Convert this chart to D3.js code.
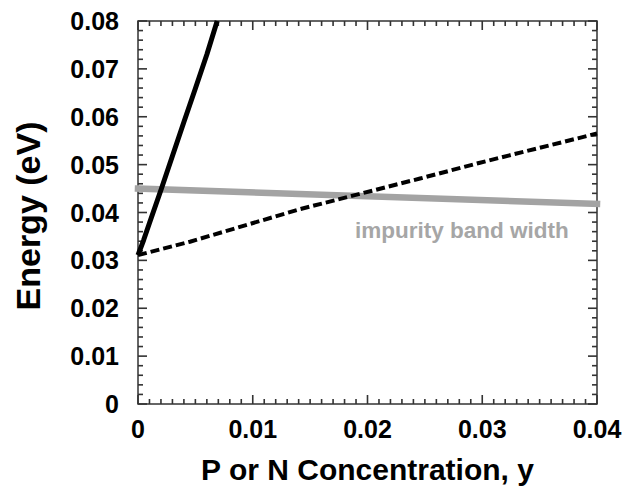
<!DOCTYPE html>
<html><head><meta charset="utf-8">
<script src="https://cdn.jsdelivr.net/npm/d3@7"></script>
<style>html,body{margin:0;padding:0;background:#fff;}svg{display:block;}</style>
</head><body>
<script>
// Data
const solidX  = [0, 0.0005, 0.001, 0.002, 0.003, 0.004, 0.005, 0.006, 0.0069];
const solidY  = [0.0311, 0.0343, 0.0378, 0.0447, 0.0518, 0.0589, 0.0659, 0.0730, 0.0800];
const dashedX = [0, 0.00453, 0.01412, 0.02458, 0.0298, 0.04];
const dashedY = [0.0311, 0.0339, 0.0407, 0.0471, 0.0504, 0.0565];
const grayX   = [0, 0.04];
const grayY   = [0.0450, 0.0418];
const xTicks  = [0, 0.01, 0.02, 0.03, 0.04];
const yTicks  = [0, 0.01, 0.02, 0.03, 0.04, 0.05, 0.06, 0.07, 0.08];
const xTickLabels = ["0", "0.01", "0.02", "0.03", "0.04"];
const yTickLabels = ["0", "0.01", "0.02", "0.03", "0.04", "0.05", "0.06", "0.07", "0.08"];
const xTitle = "P or N Concentration, y";
const yTitle = "Energy (eV)";
const bandLabel = "impurity band width";

const W = 625, H = 494;
const L = 138, R = 597, T = 21, B = 404;
const FONT = "'Liberation Sans', Arial, Helvetica, sans-serif";
const frameColor = "#333333";

const svg = d3.select("body").append("svg").attr("width", W).attr("height", H);
const x = d3.scaleLinear().domain([0, 0.04]).range([L, R]);
const y = d3.scaleLinear().domain([0, 0.08]).range([B, T]);

const xMinor = d3.range(0, 41).map(i => i * 0.001).filter(v => !xTicks.some(t => Math.abs(t - v) < 1e-9));
const yMinor = d3.range(0, 41).map(i => i * 0.002).filter(v => !yTicks.some(t => Math.abs(t - v) < 1e-9));

// frame
svg.append("rect").attr("x", L).attr("y", T).attr("width", R - L).attr("height", B - T)
  .attr("fill", "none").attr("stroke", frameColor).attr("stroke-width", 1.5);

// tick marks drawn as thin filled rectangles, inside on all four sides
const tw = 1.6;
function xTickRects(cls, vals, len) {
  svg.selectAll("rect." + cls + "b").data(vals).join("rect").attr("class", cls + "b")
    .attr("x", d => x(d) - tw / 2).attr("y", B - len).attr("width", tw).attr("height", len)
    .attr("fill", frameColor);
  svg.selectAll("rect." + cls + "t").data(vals).join("rect").attr("class", cls + "t")
    .attr("x", d => x(d) - tw / 2).attr("y", T).attr("width", tw).attr("height", len)
    .attr("fill", frameColor);
}
function yTickRects(cls, vals, len) {
  svg.selectAll("rect." + cls + "l").data(vals).join("rect").attr("class", cls + "l")
    .attr("x", L).attr("y", d => y(d) - tw / 2).attr("width", len).attr("height", tw)
    .attr("fill", frameColor);
  svg.selectAll("rect." + cls + "r").data(vals).join("rect").attr("class", cls + "r")
    .attr("x", R - len).attr("y", d => y(d) - tw / 2).attr("width", len).attr("height", tw)
    .attr("fill", frameColor);
}
xTickRects("xmaj", xTicks, 9); xTickRects("xmin", xMinor, 5);
yTickRects("ymaj", yTicks, 9); yTickRects("ymin", yMinor, 5);

// tick labels
svg.append("g").selectAll("text").data(xTicks).join("text")
  .attr("x", d => x(d)).attr("y", 438).attr("text-anchor", "middle")
  .attr("font-family", FONT).attr("font-weight", "bold").attr("font-size", 25)
  .text((d, i) => xTickLabels[i]);
svg.append("g").selectAll("text").data(yTicks).join("text")
  .attr("x", 119).attr("y", d => y(d) + 9).attr("text-anchor", "end")
  .attr("font-family", FONT).attr("font-weight", "bold").attr("font-size", 25)
  .text((d, i) => yTickLabels[i]);

const line = d3.line().x(d => x(d[0])).y(d => y(d[1]));

svg.append("path").datum(d3.zip(grayX, grayY)).attr("d", line)
  .attr("fill", "none").attr("stroke", "#a3a3a3").attr("stroke-width", 6.5).attr("stroke-linecap", "square");

svg.append("path").datum(d3.zip(dashedX, dashedY)).attr("d", line)
  .attr("fill", "none").attr("stroke", "#000").attr("stroke-width", 4).attr("stroke-dasharray", "9,4");

svg.append("path").datum(d3.zip(solidX, solidY)).attr("d", line)
  .attr("fill", "none").attr("stroke", "#000").attr("stroke-width", 5).attr("stroke-linejoin", "round");

svg.append("text").attr("x", 355).attr("y", 238).text(bandLabel)
  .attr("font-family", FONT).attr("font-weight", "bold").attr("font-size", 22.5).attr("fill", "#a6a6a6");

svg.append("text").attr("x", (L + R) / 2).attr("y", 480).attr("text-anchor", "middle").text(xTitle)
  .attr("font-family", FONT).attr("font-weight", "bold").attr("font-size", 30).attr("fill", "#000");

svg.append("text").attr("transform", `translate(40,216) rotate(-90)`).attr("text-anchor", "middle").text(yTitle)
  .attr("font-family", FONT).attr("font-weight", "bold").attr("font-size", 34).attr("fill", "#000");
</script>
</body></html>
